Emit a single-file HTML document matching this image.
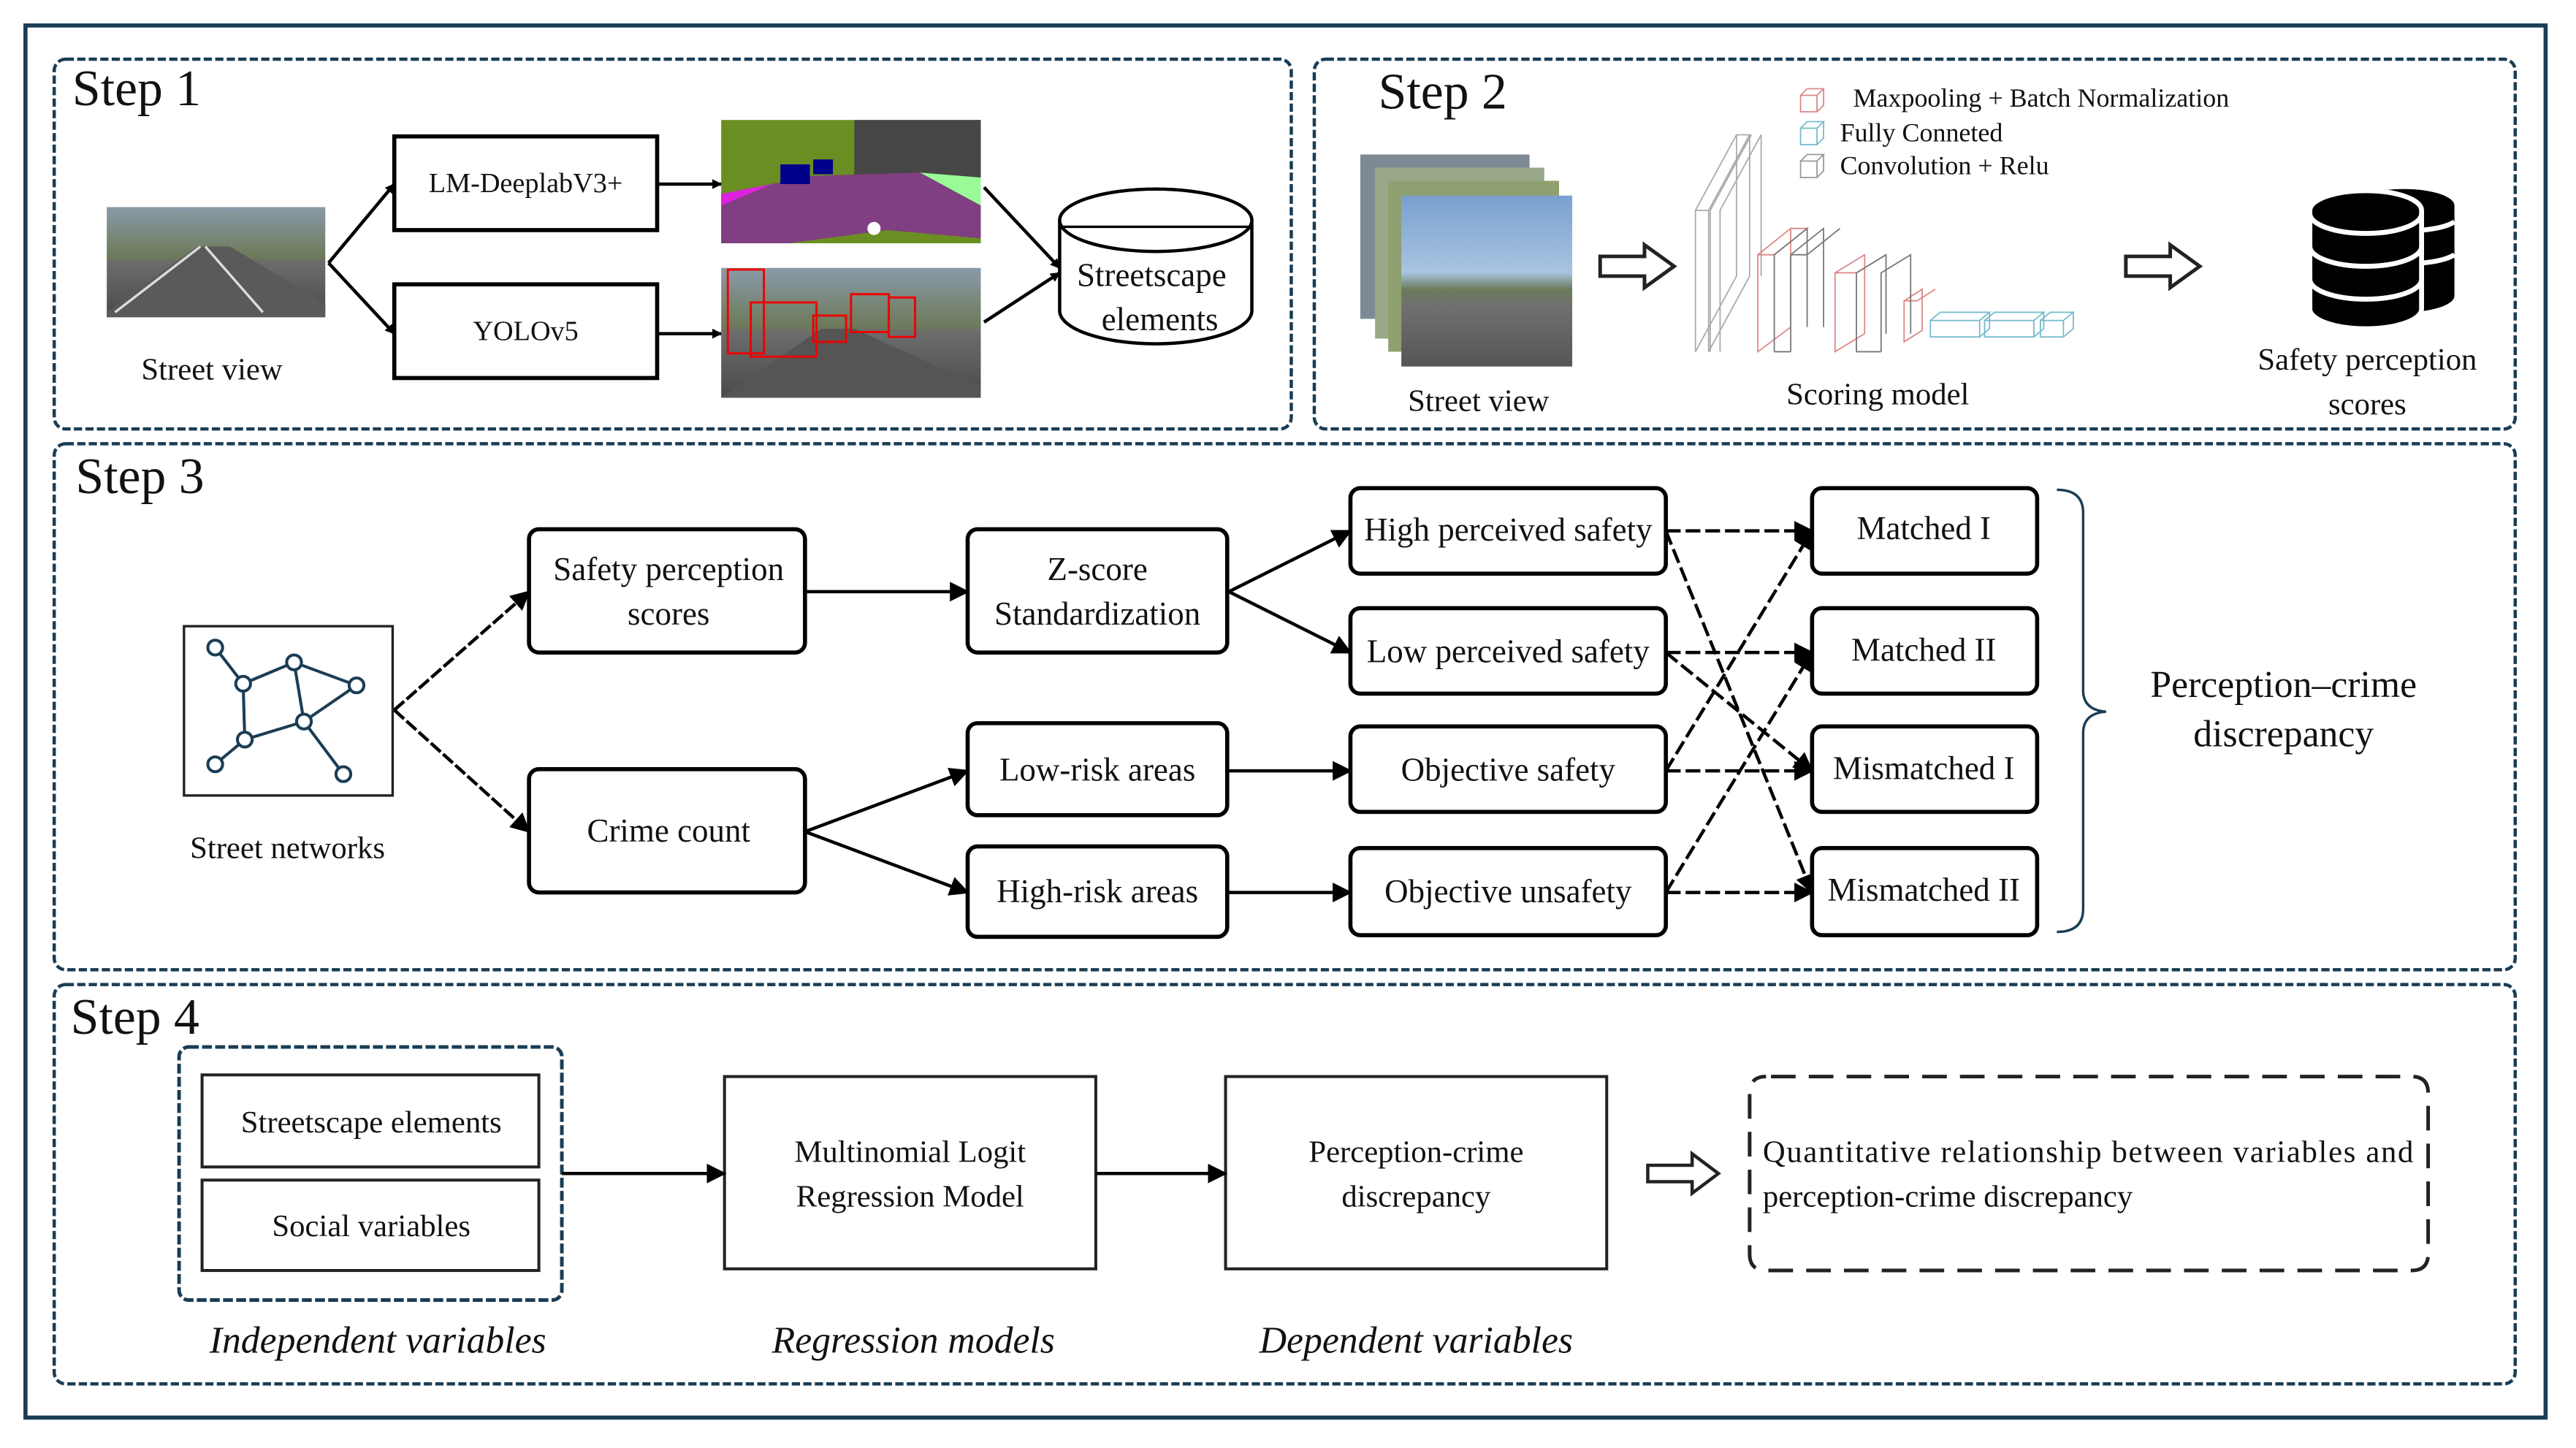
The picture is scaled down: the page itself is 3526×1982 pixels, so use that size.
<!DOCTYPE html>
<html><head><meta charset="utf-8"><style>
html,body{margin:0;padding:0;background:#fff;}
svg{display:block;}
text{font-family:"Liberation Serif",serif;fill:#111;}
</style></head><body>
<svg width="3526" height="1982" viewBox="0 0 1568 881" preserveAspectRatio="none" xmlns="http://www.w3.org/2000/svg">
<defs>
<marker id="a" viewBox="0 0 10 10" refX="9" refY="5" markerWidth="6" markerHeight="6" orient="auto-start-reverse" markerUnits="userSpaceOnUse"><path d="M0,0L10,5L0,10z" fill="#000"/></marker>
<marker id="b" viewBox="0 0 10 10" refX="9" refY="5" markerWidth="12" markerHeight="12" orient="auto" markerUnits="userSpaceOnUse"><path d="M0,0L10,5L0,10z" fill="#000"/></marker>
<linearGradient id="sky" x1="0" y1="0" x2="0" y2="1"><stop offset="0" stop-color="#8a9aa8"/><stop offset="0.45" stop-color="#6d7a5a"/><stop offset="0.5" stop-color="#6c6c6c"/><stop offset="1" stop-color="#4a4a4a"/></linearGradient>
<linearGradient id="sky2" x1="0" y1="0" x2="0" y2="1"><stop offset="0" stop-color="#7aa0d0"/><stop offset="0.45" stop-color="#a8c4e0"/><stop offset="0.55" stop-color="#6b7a5a"/><stop offset="0.65" stop-color="#707070"/><stop offset="1" stop-color="#555"/></linearGradient>
</defs>
<rect width="1568" height="881" fill="#fff"/>
<rect x="15.5" y="15.5" width="1534" height="847" fill="none" stroke="#1a3d55" stroke-width="2.5"/>
<g fill="none" stroke="#1a3d55" stroke-width="2" stroke-dasharray="5 2">
<rect x="33" y="36" width="753" height="225" rx="7"/>
<rect x="800" y="36" width="731" height="225" rx="7"/>
<rect x="33" y="270" width="1498" height="320" rx="7"/>
<rect x="33" y="599" width="1498" height="243" rx="7"/>
</g>
<g font-size="31"><text x="44" y="64">Step 1</text><text x="839" y="66">Step 2</text><text x="46" y="300">Step 3</text><text x="43" y="629">Step 4</text></g>

<!-- Step 1 -->
<rect x="65" y="126" width="133" height="67" fill="url(#sky)"/>
<path d="M65,190L120,150L140,150L198,185L198,193L65,193z" fill="#5a5a5a"/>
<path d="M70,190L122,150M125,150L160,190" stroke="#ddd" stroke-width="1.5"/>
<text x="129" y="231" font-size="19" text-anchor="middle">Street view</text>
<g fill="none" stroke="#000" stroke-width="2">
<path d="M200,160L240,112" marker-end="url(#a)"/><path d="M200,160L240,203" marker-end="url(#a)"/>
<path d="M400,112L439,112" marker-end="url(#a)"/><path d="M400,203L439,203" marker-end="url(#a)"/>
<path d="M599,114L645,163" marker-end="url(#a)"/><path d="M599,196L645,166" marker-end="url(#a)"/>
</g>
<rect x="240" y="83" width="160" height="57" fill="#fff" stroke="#000" stroke-width="2.5"/>
<text x="320" y="117" font-size="17" text-anchor="middle">LM-DeeplabV3+</text>
<rect x="240" y="173" width="160" height="57" fill="#fff" stroke="#000" stroke-width="2.5"/>
<text x="320" y="207" font-size="17" text-anchor="middle">YOLOv5</text>
<!-- seg image -->
<rect x="439" y="73" width="158" height="75" fill="#6b8e23"/>
<rect x="520" y="73" width="77" height="40" fill="#464646"/>
<path d="M439,148L439,118L495,107L560,105L597,125L597,145L540,140L480,148z" fill="#803f80"/>
<path d="M560,105L597,108L597,125z" fill="#98fb98"/>
<path d="M439,118L470,112L439,125z" fill="#e020e0"/>
<rect x="475" y="100" width="18" height="12" fill="#00008b"/><rect x="495" y="97" width="12" height="9" fill="#00008b"/>
<circle cx="532" cy="139" r="4" fill="#fff"/>
<!-- detection image -->
<rect x="439" y="163" width="158" height="79" fill="url(#sky)"/>
<path d="M439,242L500,200L520,200L597,235L597,242z" fill="#555"/>
<g fill="none" stroke="#e00" stroke-width="1.3"><rect x="443" y="164" width="22" height="51"/><rect x="457" y="184" width="40" height="33"/><rect x="495" y="192" width="20" height="16"/><rect x="518" y="179" width="23" height="23"/><rect x="541" y="181" width="16" height="24"/></g>
<!-- cylinder -->
<path d="M645,134L645,189A58,20 0 0 0 762,189L762,134" fill="#fff" stroke="#000" stroke-width="2"/>
<ellipse cx="703.5" cy="134" rx="58.5" ry="19" fill="#fff" stroke="#000" stroke-width="2"/>
<line x1="645" y1="138" x2="762" y2="138" stroke="#000" stroke-width="1.5"/>
<text x="701" y="174" font-size="20" text-anchor="middle">Streetscape</text>
<text x="706" y="201" font-size="20" text-anchor="middle">elements</text>

<!-- Step 2 -->
<rect x="828" y="94" width="103" height="100" fill="#7d8a96"/>
<rect x="837" y="102" width="103" height="104" fill="#9aa88a"/>
<rect x="845" y="110" width="104" height="104" fill="#8fa070"/>
<rect x="853" y="119" width="104" height="104" fill="url(#sky2)"/>
<text x="900" y="250" font-size="19" text-anchor="middle">Street view</text>
<path d="M974,156h27v-7l18,13l-18,13v-7h-27z" fill="#fff" stroke="#222" stroke-width="2.2"/>
<path d="M1294,156h27v-7l18,13l-18,13v-7h-27z" fill="#fff" stroke="#222" stroke-width="2.2"/>
<g fill="none" stroke-width="0.8">
<g stroke="#aaa"><path d="M1032,214V128L1057,82V168ZM1032,128H1040L1065,82H1057M1040,214V128M1065,82V168L1040,214"/><path d="M1041,214V128L1066,82M1047,214V128L1072,82V168"/></g>
<g stroke="#d88"><path d="M1070,214V155L1090,139V199Z"/><path d="M1070,155H1080L1100,139H1090"/><path d="M1117,214V166L1135,155V203Z M1117,166H1130L1148,155"/><path d="M1159,208V183L1170,176V201Z M1159,183H1167L1178,176"/></g>
<g stroke="#777"><path d="M1080,214V155L1100,139V199M1090,214V155L1110,139V199M1080,214H1090M1090,155H1100L1120,139"/><path d="M1130,214V166L1148,155V203M1145,214V166L1163,155V203M1130,214H1145"/></g>
<g stroke="#7bc"><rect x="1175" y="195" width="30" height="10"/><path d="M1175,195L1181,190H1211L1205,195M1211,190V200L1205,205"/><rect x="1208" y="195" width="30" height="10"/><path d="M1208,195L1214,190H1244L1238,195M1244,190V200L1238,205"/><rect x="1242" y="195" width="14" height="10"/><path d="M1242,195L1248,190H1262L1256,195M1262,190V200L1256,205"/></g>
<g stroke="#d88"><rect x="1096" y="58" width="10" height="10"/><path d="M1096,58L1100,54H1110L1106,58M1110,54V64L1106,68"/></g>
<g stroke="#7bc"><rect x="1096" y="78" width="10" height="10"/><path d="M1096,78L1100,74H1110L1106,78M1110,74V84L1106,88"/></g>
<g stroke="#999"><rect x="1096" y="98" width="10" height="10"/><path d="M1096,98L1100,94H1110L1106,98M1110,94V104L1106,108"/></g>
</g>
<g font-size="16"><text x="1128" y="65">Maxpooling + Batch Normalization</text><text x="1120" y="86">Fully Conneted</text><text x="1120" y="106">Convolution + Relu</text></g>
<text x="1143" y="246" font-size="19" text-anchor="middle">Scoring model</text>
<!-- database -->
<g fill="#000">
<path d="M1432,125A31,10 0 0 1 1494,125V180A31,10 0 0 1 1432,180Z"/>
<path d="M1406,128A34,12 0 0 1 1474,128V188A34,12 0 0 1 1406,188Z" stroke="#fff" stroke-width="3"/>
</g>
<g fill="none" stroke="#fff" stroke-width="3"><path d="M1406,130A34,12 0 0 0 1474,130"/><path d="M1406,150A34,12 0 0 0 1474,150"/><path d="M1406,170A34,12 0 0 0 1474,170"/><path d="M1474,140A31,10 0 0 0 1494,135M1474,160A31,10 0 0 0 1494,155"/></g>
<text x="1441" y="225" font-size="19" text-anchor="middle">Safety perception</text>
<text x="1441" y="252" font-size="19" text-anchor="middle">scores</text>

<!-- Step 3 -->
<rect x="112" y="381" width="127" height="103" fill="#fff" stroke="#222" stroke-width="1.5"/>
<g stroke="#1a3d55" stroke-width="1.8" fill="#fff">
<path d="M131,394L148,416L179,403L185,439L149,450L131,465M148,416L149,450M179,403L217,417L185,439L209,471" fill="none"/>
<circle cx="131" cy="394" r="4.5"/><circle cx="148" cy="416" r="4.5"/><circle cx="179" cy="403" r="4.5"/><circle cx="217" cy="417" r="4.5"/><circle cx="185" cy="439" r="4.5"/><circle cx="149" cy="450" r="4.5"/><circle cx="131" cy="465" r="4.5"/><circle cx="209" cy="471" r="4.5"/>
</g>
<text x="175" y="522" font-size="19" text-anchor="middle">Street networks</text>
<g fill="none" stroke="#000" stroke-width="2">
<path d="M240,432L322,360" stroke-dasharray="8 2" marker-end="url(#b)"/>
<path d="M240,432L322,506" stroke-dasharray="8 2" marker-end="url(#b)"/>
<path d="M490,360L589,360" marker-end="url(#b)"/>
<path d="M748,360L822,323" marker-end="url(#b)"/>
<path d="M748,360L822,397" marker-end="url(#b)"/>
<path d="M490,506L589,469" marker-end="url(#b)"/>
<path d="M490,506L589,543" marker-end="url(#b)"/>
<path d="M748,469L822,469" marker-end="url(#b)"/>
<path d="M748,543L822,543" marker-end="url(#b)"/>
</g>
<g fill="none" stroke="#000" stroke-width="2" stroke-dasharray="9 3">
<path d="M1014,323L1103,323" marker-end="url(#b)"/>
<path d="M1014,397L1103,397" marker-end="url(#b)"/>
<path d="M1014,469L1103,469" marker-end="url(#b)"/>
<path d="M1014,543L1103,543" marker-end="url(#b)"/>
<path d="M1014,323L1103,543" marker-end="url(#b)"/>
<path d="M1014,397L1103,469" marker-end="url(#b)"/>
<path d="M1014,469L1103,323" marker-end="url(#b)"/>
<path d="M1014,543L1103,397" marker-end="url(#b)"/>
</g>
<g fill="#fff" stroke="#000" stroke-width="2.5">
<rect x="322" y="322" width="168" height="75" rx="6"/>
<rect x="322" y="468" width="168" height="75" rx="6"/>
<rect x="589" y="322" width="158" height="75" rx="6"/>
<rect x="589" y="440" width="158" height="56" rx="6"/>
<rect x="589" y="515" width="158" height="55" rx="6"/>
<rect x="822" y="297" width="192" height="52" rx="6"/>
<rect x="822" y="370" width="192" height="52" rx="6"/>
<rect x="822" y="442" width="192" height="52" rx="6"/>
<rect x="822" y="516" width="192" height="53" rx="6"/>
<rect x="1103" y="297" width="137" height="52" rx="6"/>
<rect x="1103" y="370" width="137" height="52" rx="6"/>
<rect x="1103" y="442" width="137" height="52" rx="6"/>
<rect x="1103" y="516" width="137" height="53" rx="6"/>
</g>
<g font-size="20" text-anchor="middle">
<text x="407" y="353">Safety perception</text><text x="407" y="380">scores</text>
<text x="407" y="512">Crime count</text>
<text x="668" y="353">Z-score</text><text x="668" y="380">Standardization</text>
<text x="668" y="475">Low-risk areas</text><text x="668" y="549">High-risk areas</text>
<text x="918" y="329">High perceived safety</text><text x="918" y="403">Low perceived safety</text>
<text x="918" y="475">Objective safety</text><text x="918" y="549">Objective unsafety</text>
<text x="1171" y="328">Matched I</text><text x="1171" y="402">Matched II</text>
<text x="1171" y="474">Mismatched I</text><text x="1171" y="548">Mismatched II</text>
</g>
<path d="M1252,298Q1268,298 1268,312V420Q1268,432 1282,433Q1268,434 1268,446V553Q1268,567 1252,567" fill="none" stroke="#1a3d55" stroke-width="1.5"/>
<text x="1390" y="424" font-size="23" text-anchor="middle">Perception–crime</text>
<text x="1390" y="454" font-size="23" text-anchor="middle">discrepancy</text>

<!-- Step 4 -->
<rect x="109" y="637" width="233" height="154" rx="6" fill="none" stroke="#1a3d55" stroke-width="2.2" stroke-dasharray="6 2"/>
<g fill="#fff" stroke="#222" stroke-width="1.8">
<rect x="123" y="654" width="205" height="56"/><rect x="123" y="718" width="205" height="55"/>
<rect x="441" y="655" width="226" height="117"/><rect x="746" y="655" width="232" height="117"/>
</g>
<g fill="none" stroke="#000" stroke-width="2">
<path d="M342,714L441,714" marker-end="url(#b)"/><path d="M667,714L746,714" marker-end="url(#b)"/>
</g>
<path d="M1003,709h27v-7l16,12l-16,12v-7h-27z" fill="#fff" stroke="#222" stroke-width="2"/>
<path d="M1078,655H1468Q1478,655 1478,665V763Q1478,773 1468,773H1075Q1065,773 1065,763V665Q1065,655 1075,655" fill="none" stroke="#222" stroke-width="2.2" stroke-dasharray="15 8"/>
<g font-size="19" text-anchor="middle">
<text x="226" y="689">Streetscape elements</text><text x="226" y="752">Social variables</text>
<text x="554" y="707">Multinomial Logit</text><text x="554" y="734">Regression Model</text>
<text x="862" y="707">Perception-crime</text><text x="862" y="734">discrepancy</text>
</g>
<text x="1073" y="707" font-size="19" textLength="396" lengthAdjust="spacing">Quantitative relationship between variables and</text>
<text x="1073" y="734" font-size="19">perception-crime discrepancy</text>
<g font-size="23" font-style="italic" text-anchor="middle">
<text x="230" y="823">Independent variables</text><text x="556" y="823">Regression models</text><text x="862" y="823">Dependent variables</text>
</g>
</svg>
</body></html>
